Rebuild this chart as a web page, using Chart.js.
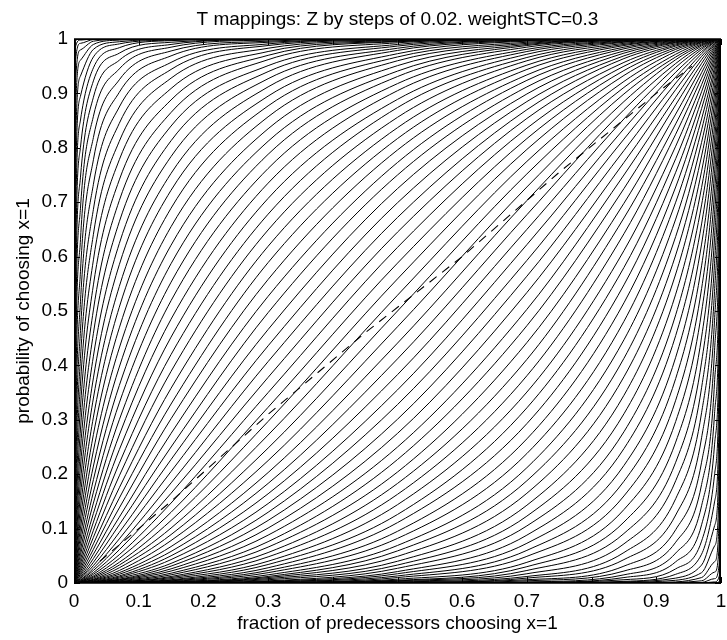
<!DOCTYPE html>
<html>
<head>
<meta charset="utf-8">
<title>T mappings</title>
<script src="https://cdn.jsdelivr.net/npm/chart.js@4.4.1/dist/chart.umd.min.js"></script>
<style>
  html, body { margin: 0; padding: 0; background: #fff; }
  #chart { display: block; }
</style>
</head>
<body>
<canvas id="chart" width="727" height="640"></canvas>
<script>
// T mappings chart: one solid curve per Z step (Z = -1 ... 1 by 0.02), plus the dashed line.

// shared x positions (fraction of predecessors) the curves are read at
const xGrid = [0, 0.002, 0.01, 0.03, 0.07, 0.15, 0.3, 0.5, 0.7, 0.85, 0.93, 0.97, 0.99, 0.998, 1];

// Z = 0
const centreCurve = [0, 0, 0.001, 0.007, 0.028, 0.089, 0.248, 0.5, 0.752, 0.911, 0.972, 0.993, 0.999, 1, 1];

// Z = 0.02 ... 0.98
const upperCurves = [
  [0, 0, 0.002, 0.009, 0.033, 0.101, 0.272, 0.529, 0.775, 0.922, 0.977, 0.994, 0.999, 1, 1],
  [0, 0, 0.002, 0.011, 0.038, 0.115, 0.297, 0.559, 0.797, 0.933, 0.981, 0.995, 0.999, 1, 1],
  [0, 0, 0.003, 0.013, 0.045, 0.130, 0.323, 0.588, 0.817, 0.942, 0.984, 0.996, 0.999, 1, 1],
  [0, 0, 0.003, 0.016, 0.052, 0.147, 0.350, 0.617, 0.836, 0.950, 0.987, 0.997, 1, 1, 1],
  [0, 0, 0.004, 0.019, 0.061, 0.165, 0.378, 0.645, 0.854, 0.957, 0.989, 0.998, 1, 1, 1],
  [0, 0, 0.005, 0.023, 0.070, 0.184, 0.407, 0.672, 0.870, 0.964, 0.991, 0.998, 1, 1, 1],
  [0, 0.001, 0.006, 0.027, 0.081, 0.205, 0.436, 0.699, 0.885, 0.969, 0.993, 0.998, 1, 1, 1],
  [0, 0.001, 0.008, 0.032, 0.093, 0.227, 0.466, 0.725, 0.899, 0.974, 0.994, 0.999, 1, 1, 1],
  [0, 0.001, 0.009, 0.038, 0.107, 0.250, 0.497, 0.750, 0.912, 0.978, 0.995, 0.999, 1, 1, 1],
  [0, 0.001, 0.011, 0.045, 0.121, 0.275, 0.527, 0.773, 0.924, 0.982, 0.996, 0.999, 1, 1, 1],
  [0, 0.002, 0.014, 0.053, 0.138, 0.302, 0.558, 0.796, 0.934, 0.985, 0.997, 0.999, 1, 1, 1],
  [0, 0.002, 0.017, 0.062, 0.156, 0.329, 0.589, 0.817, 0.944, 0.988, 0.998, 1, 1, 1, 1],
  [0, 0.003, 0.021, 0.072, 0.175, 0.358, 0.619, 0.837, 0.952, 0.990, 0.998, 1, 1, 1, 1],
  [0, 0.004, 0.025, 0.084, 0.197, 0.389, 0.649, 0.856, 0.960, 0.992, 0.999, 1, 1, 1, 1],
  [0, 0.005, 0.030, 0.097, 0.220, 0.420, 0.678, 0.874, 0.966, 0.994, 0.999, 1, 1, 1, 1],
  [0, 0.006, 0.036, 0.112, 0.245, 0.452, 0.707, 0.889, 0.972, 0.995, 0.999, 1, 1, 1, 1],
  [0, 0.008, 0.043, 0.128, 0.272, 0.485, 0.735, 0.905, 0.977, 0.996, 0.999, 1, 1, 1, 1],
  [0, 0.009, 0.052, 0.147, 0.300, 0.519, 0.762, 0.918, 0.981, 0.997, 1, 1, 1, 1, 1],
  [0, 0.012, 0.061, 0.167, 0.331, 0.553, 0.788, 0.931, 0.985, 0.998, 1, 1, 1, 1, 1],
  [0, 0.015, 0.073, 0.190, 0.363, 0.587, 0.812, 0.941, 0.988, 0.998, 1, 1, 1, 1, 1],
  [0, 0.019, 0.086, 0.215, 0.397, 0.621, 0.835, 0.951, 0.990, 0.999, 1, 1, 1, 1, 1],
  [0, 0.023, 0.101, 0.243, 0.432, 0.655, 0.857, 0.960, 0.992, 0.999, 1, 1, 1, 1, 1],
  [0, 0.029, 0.118, 0.273, 0.469, 0.689, 0.877, 0.967, 0.994, 0.999, 1, 1, 1, 1, 1],
  [0, 0.035, 0.138, 0.305, 0.507, 0.722, 0.895, 0.973, 0.996, 0.999, 1, 1, 1, 1, 1],
  [0, 0.044, 0.161, 0.340, 0.545, 0.753, 0.912, 0.979, 0.997, 1, 1, 1, 1, 1, 1],
  [0, 0.054, 0.186, 0.377, 0.585, 0.784, 0.927, 0.983, 0.998, 1, 1, 1, 1, 1, 1],
  [0, 0.066, 0.215, 0.417, 0.624, 0.813, 0.940, 0.987, 0.998, 1, 1, 1, 1, 1, 1],
  [0, 0.081, 0.247, 0.459, 0.664, 0.840, 0.951, 0.990, 0.999, 1, 1, 1, 1, 1, 1],
  [0, 0.098, 0.283, 0.502, 0.703, 0.865, 0.962, 0.993, 0.999, 1, 1, 1, 1, 1, 1],
  [0, 0.120, 0.323, 0.548, 0.741, 0.888, 0.970, 0.995, 0.999, 1, 1, 1, 1, 1, 1],
  [0, 0.145, 0.366, 0.594, 0.778, 0.909, 0.977, 0.996, 1, 1, 1, 1, 1, 1, 1],
  [0, 0.175, 0.413, 0.641, 0.812, 0.928, 0.983, 0.997, 1, 1, 1, 1, 1, 1, 1],
  [0, 0.210, 0.464, 0.687, 0.845, 0.944, 0.988, 0.998, 1, 1, 1, 1, 1, 1, 1],
  [0, 0.250, 0.517, 0.733, 0.875, 0.957, 0.991, 0.999, 1, 1, 1, 1, 1, 1, 1],
  [0, 0.297, 0.573, 0.778, 0.902, 0.969, 0.994, 0.999, 1, 1, 1, 1, 1, 1, 1],
  [0, 0.351, 0.631, 0.819, 0.925, 0.978, 0.996, 1, 1, 1, 1, 1, 1, 1, 1],
  [0, 0.411, 0.689, 0.858, 0.945, 0.985, 0.998, 1, 1, 1, 1, 1, 1, 1, 1],
  [0, 0.478, 0.746, 0.893, 0.961, 0.990, 0.999, 1, 1, 1, 1, 1, 1, 1, 1],
  [0, 0.550, 0.801, 0.923, 0.974, 0.994, 0.999, 1, 1, 1, 1, 1, 1, 1, 1],
  [0, 0.627, 0.851, 0.947, 0.984, 0.997, 1, 1, 1, 1, 1, 1, 1, 1, 1],
  [0, 0.705, 0.895, 0.967, 0.991, 0.998, 1, 1, 1, 1, 1, 1, 1, 1, 1],
  [0, 0.781, 0.932, 0.981, 0.995, 0.999, 1, 1, 1, 1, 1, 1, 1, 1, 1],
  [0, 0.852, 0.961, 0.990, 0.998, 1, 1, 1, 1, 1, 1, 1, 1, 1, 1],
  [0, 0.911, 0.980, 0.996, 0.999, 1, 1, 1, 1, 1, 1, 1, 1, 1, 1],
  [0, 0.956, 0.992, 0.999, 1, 1, 1, 1, 1, 1, 1, 1, 1, 1, 1],
  [0, 0.984, 0.998, 1, 1, 1, 1, 1, 1, 1, 1, 1, 1, 1, 1],
  [0, 0.996, 1, 1, 1, 1, 1, 1, 1, 1, 1, 1, 1, 1, 1],
  [0, 1, 1, 1, 1, 1, 1, 1, 1, 1, 1, 1, 1, 1, 1],
  [0, 1, 1, 1, 1, 1, 1, 1, 1, 1, 1, 1, 1, 1, 1]
];

// Z = -0.02 ... -0.98
const lowerCurves = [
  [0, 0, 0.001, 0.006, 0.023, 0.078, 0.225, 0.471, 0.728, 0.899, 0.967, 0.991, 0.998, 1, 1],
  [0, 0, 0.001, 0.005, 0.019, 0.067, 0.203, 0.441, 0.703, 0.885, 0.962, 0.989, 0.998, 1, 1],
  [0, 0, 0.001, 0.004, 0.016, 0.058, 0.183, 0.412, 0.677, 0.870, 0.955, 0.987, 0.997, 1, 1],
  [0, 0, 0, 0.003, 0.013, 0.050, 0.164, 0.383, 0.650, 0.853, 0.948, 0.984, 0.997, 1, 1],
  [0, 0, 0, 0.002, 0.011, 0.043, 0.146, 0.355, 0.622, 0.835, 0.939, 0.981, 0.996, 1, 1],
  [0, 0, 0, 0.002, 0.009, 0.036, 0.130, 0.328, 0.593, 0.816, 0.930, 0.977, 0.995, 1, 1],
  [0, 0, 0, 0.002, 0.007, 0.031, 0.115, 0.301, 0.564, 0.795, 0.919, 0.973, 0.994, 0.999, 1],
  [0, 0, 0, 0.001, 0.006, 0.026, 0.101, 0.275, 0.534, 0.773, 0.907, 0.968, 0.992, 0.999, 1],
  [0, 0, 0, 0.001, 0.005, 0.022, 0.088, 0.250, 0.503, 0.750, 0.893, 0.962, 0.991, 0.999, 1],
  [0, 0, 0, 0.001, 0.004, 0.018, 0.076, 0.227, 0.473, 0.725, 0.879, 0.955, 0.989, 0.999, 1],
  [0, 0, 0, 0.001, 0.003, 0.015, 0.066, 0.204, 0.442, 0.698, 0.862, 0.947, 0.986, 0.998, 1],
  [0, 0, 0, 0, 0.002, 0.012, 0.056, 0.183, 0.411, 0.671, 0.844, 0.938, 0.983, 0.998, 1],
  [0, 0, 0, 0, 0.002, 0.010, 0.048, 0.163, 0.381, 0.642, 0.825, 0.928, 0.979, 0.997, 1],
  [0, 0, 0, 0, 0.001, 0.008, 0.040, 0.144, 0.351, 0.611, 0.803, 0.916, 0.975, 0.996, 1],
  [0, 0, 0, 0, 0.001, 0.006, 0.034, 0.126, 0.322, 0.580, 0.780, 0.903, 0.970, 0.995, 1],
  [0, 0, 0, 0, 0.001, 0.005, 0.028, 0.111, 0.293, 0.548, 0.755, 0.888, 0.964, 0.994, 1],
  [0, 0, 0, 0, 0.001, 0.004, 0.023, 0.095, 0.265, 0.515, 0.728, 0.872, 0.957, 0.992, 1],
  [0, 0, 0, 0, 0, 0.003, 0.019, 0.082, 0.238, 0.481, 0.700, 0.853, 0.948, 0.991, 1],
  [0, 0, 0, 0, 0, 0.002, 0.015, 0.069, 0.212, 0.447, 0.669, 0.833, 0.939, 0.988, 1],
  [0, 0, 0, 0, 0, 0.002, 0.012, 0.059, 0.188, 0.413, 0.637, 0.810, 0.927, 0.985, 1],
  [0, 0, 0, 0, 0, 0.001, 0.010, 0.049, 0.165, 0.379, 0.603, 0.785, 0.914, 0.981, 1],
  [0, 0, 0, 0, 0, 0.001, 0.008, 0.040, 0.143, 0.345, 0.568, 0.757, 0.899, 0.977, 1],
  [0, 0, 0, 0, 0, 0.001, 0.006, 0.033, 0.123, 0.311, 0.531, 0.727, 0.882, 0.971, 1],
  [0, 0, 0, 0, 0, 0.001, 0.004, 0.027, 0.105, 0.278, 0.493, 0.695, 0.862, 0.965, 1],
  [0, 0, 0, 0, 0, 0, 0.003, 0.021, 0.088, 0.247, 0.455, 0.660, 0.839, 0.956, 1],
  [0, 0, 0, 0, 0, 0, 0.002, 0.017, 0.073, 0.216, 0.415, 0.623, 0.814, 0.946, 1],
  [0, 0, 0, 0, 0, 0, 0.002, 0.013, 0.060, 0.187, 0.376, 0.583, 0.785, 0.934, 1],
  [0, 0, 0, 0, 0, 0, 0.001, 0.010, 0.049, 0.160, 0.336, 0.541, 0.753, 0.919, 1],
  [0, 0, 0, 0, 0, 0, 0.001, 0.007, 0.038, 0.135, 0.297, 0.498, 0.717, 0.902, 1],
  [0, 0, 0, 0, 0, 0, 0.001, 0.005, 0.030, 0.112, 0.259, 0.452, 0.677, 0.880, 1],
  [0, 0, 0, 0, 0, 0, 0, 0.004, 0.023, 0.091, 0.222, 0.406, 0.634, 0.855, 1],
  [0, 0, 0, 0, 0, 0, 0, 0.003, 0.017, 0.072, 0.188, 0.359, 0.587, 0.825, 1],
  [0, 0, 0, 0, 0, 0, 0, 0.002, 0.012, 0.056, 0.155, 0.313, 0.536, 0.790, 1],
  [0, 0, 0, 0, 0, 0, 0, 0.001, 0.009, 0.043, 0.125, 0.267, 0.483, 0.750, 1],
  [0, 0, 0, 0, 0, 0, 0, 0.001, 0.006, 0.031, 0.098, 0.222, 0.427, 0.703, 1],
  [0, 0, 0, 0, 0, 0, 0, 0, 0.004, 0.022, 0.075, 0.181, 0.369, 0.649, 1],
  [0, 0, 0, 0, 0, 0, 0, 0, 0.002, 0.015, 0.055, 0.142, 0.311, 0.589, 1],
  [0, 0, 0, 0, 0, 0, 0, 0, 0.001, 0.010, 0.039, 0.107, 0.254, 0.522, 1],
  [0, 0, 0, 0, 0, 0, 0, 0, 0.001, 0.006, 0.026, 0.077, 0.199, 0.450, 1],
  [0, 0, 0, 0, 0, 0, 0, 0, 0, 0.003, 0.016, 0.053, 0.149, 0.373, 1],
  [0, 0, 0, 0, 0, 0, 0, 0, 0, 0.002, 0.009, 0.033, 0.105, 0.295, 1],
  [0, 0, 0, 0, 0, 0, 0, 0, 0, 0.001, 0.005, 0.019, 0.068, 0.219, 1],
  [0, 0, 0, 0, 0, 0, 0, 0, 0, 0, 0.002, 0.010, 0.039, 0.148, 1],
  [0, 0, 0, 0, 0, 0, 0, 0, 0, 0, 0.001, 0.004, 0.020, 0.089, 1],
  [0, 0, 0, 0, 0, 0, 0, 0, 0, 0, 0, 0.001, 0.008, 0.044, 1],
  [0, 0, 0, 0, 0, 0, 0, 0, 0, 0, 0, 0, 0.002, 0.016, 1],
  [0, 0, 0, 0, 0, 0, 0, 0, 0, 0, 0, 0, 0, 0.004, 1],
  [0, 0, 0, 0, 0, 0, 0, 0, 0, 0, 0, 0, 0, 0, 1],
  [0, 0, 0, 0, 0, 0, 0, 0, 0, 0, 0, 0, 0, 0, 1]
];

// Z = 1 and Z = -1 lie on the frame
const edgeX = [0, 1];
const topEdge = [1, 1];
const bottomEdge = [0, 0];

// dashed line
const dashX = [0.04, 0.15, 0.3, 0.45, 0.6, 0.75, 0.9, 0.955];
const dashY = [0.04, 0.15, 0.31, 0.46, 0.6, 0.755, 0.9, 0.95];

const axisTicks = [0, 0.1, 0.2, 0.3, 0.4, 0.5, 0.6, 0.7, 0.8, 0.9, 1];
const axisTickLabels = ['0', '0.1', '0.2', '0.3', '0.4', '0.5', '0.6', '0.7', '0.8', '0.9', '1'];

const titleText = 'T mappings: Z by steps of 0.02. weightSTC=0.3';
const fontFamily = '"Liberation Sans", Arial, Helvetica, sans-serif';

function toPoints(xsArr, ysArr) {
  return xsArr.map((x, i) => ({ x: x, y: ysArr[i] }));
}

function solidCurve(ysArr) {
  return {
    data: toPoints(xGrid, ysArr),
    borderColor: '#000',
    borderWidth: 1,
    pointRadius: 0,
    fill: false,
    cubicInterpolationMode: 'monotone'
  };
}

const datasets = [];
upperCurves.forEach(c => datasets.push(solidCurve(c)));
datasets.push(solidCurve(centreCurve));
lowerCurves.forEach(c => datasets.push(solidCurve(c)));
[topEdge, bottomEdge].forEach(e => {
  datasets.push({ data: toPoints(edgeX, e), borderColor: '#000', borderWidth: 1.5, pointRadius: 0, clip: false });
});
datasets.push({
  data: toPoints(dashX, dashY),
  borderColor: '#000',
  borderWidth: 1.1,
  borderDash: [9, 7],
  pointRadius: 0,
  tension: 0
});

// MATLAB style box: frame plus inward ticks on all four sides, and the title
const boxPlugin = {
  id: 'boxPlugin',
  afterDatasetsDraw(chart) {
    const { ctx, chartArea } = chart;
    const { left, right, top, bottom } = chartArea;
    const sx = chart.scales.x;
    const sy = chart.scales.y;
    const len = 6;
    ctx.save();
    ctx.strokeStyle = '#000';
    ctx.lineWidth = 1;
    ctx.beginPath();
    sx.ticks.forEach(t => {
      const px = Math.round(sx.getPixelForValue(t.value)) + 0.5;
      ctx.moveTo(px, bottom);
      ctx.lineTo(px, bottom - len);
      ctx.moveTo(px, top);
      ctx.lineTo(px, top + len);
    });
    sy.ticks.forEach(t => {
      const py = Math.round(sy.getPixelForValue(t.value)) + 0.5;
      ctx.moveTo(left, py);
      ctx.lineTo(left + len, py);
      ctx.moveTo(right, py);
      ctx.lineTo(right - len, py);
    });
    ctx.stroke();
    ctx.strokeRect(Math.round(left) + 0.5, Math.round(top) + 0.5,
      Math.round(right - left) - 1, Math.round(bottom - top) - 1);
    ctx.restore();
  },
  afterDraw(chart) {
    const { ctx, chartArea } = chart;
    ctx.save();
    ctx.fillStyle = '#000';
    ctx.font = '19px ' + fontFamily;
    ctx.textAlign = 'center';
    ctx.textBaseline = 'alphabetic';
    ctx.fillText(titleText, (chartArea.left + chartArea.right) / 2, 25);
    ctx.restore();
  }
};

const tickFont = { size: 19, family: fontFamily };

function setTicks(scale) {
  scale.ticks = axisTicks.map(v => ({ value: v }));
}

new Chart(document.getElementById('chart').getContext('2d'), {
  type: 'line',
  data: { datasets: datasets },
  options: {
    responsive: false,
    animation: false,
    devicePixelRatio: 1,
    events: [],
    layout: { padding: { left: 0, right: 6, top: 39, bottom: 0 } },
    plugins: {
      legend: { display: false },
      tooltip: { enabled: false },
      title: { display: false }
    },
    scales: {
      x: {
        type: 'linear',
        min: 0,
        max: 1,
        grid: { display: false, drawTicks: false },
        border: { display: false },
        afterBuildTicks: setTicks,
        afterFit: s => { s.height = 57; s.paddingLeft = 0; s.paddingRight = 0; },
        ticks: {
          color: '#000',
          font: tickFont,
          padding: 7,
          maxRotation: 0,
          autoSkip: false,
          callback: (v, i) => axisTickLabels[i]
        },
        title: {
          display: true,
          text: 'fraction of predecessors choosing x=1',
          color: '#000',
          font: tickFont,
          padding: { top: 0, bottom: 5 }
        }
      },
      y: {
        type: 'linear',
        min: 0,
        max: 1,
        grid: { display: false, drawTicks: false },
        border: { display: false },
        afterBuildTicks: setTicks,
        afterFit: s => { s.width = 74; },
        ticks: {
          color: '#000',
          font: tickFont,
          padding: 6,
          autoSkip: false,
          callback: (v, i) => axisTickLabels[i]
        },
        title: {
          display: true,
          text: 'probability of choosing x=1',
          color: '#000',
          font: tickFont,
          padding: { top: 12, bottom: 0 }
        }
      }
    }
  },
  plugins: [boxPlugin]
});
</script>
</body>
</html>
